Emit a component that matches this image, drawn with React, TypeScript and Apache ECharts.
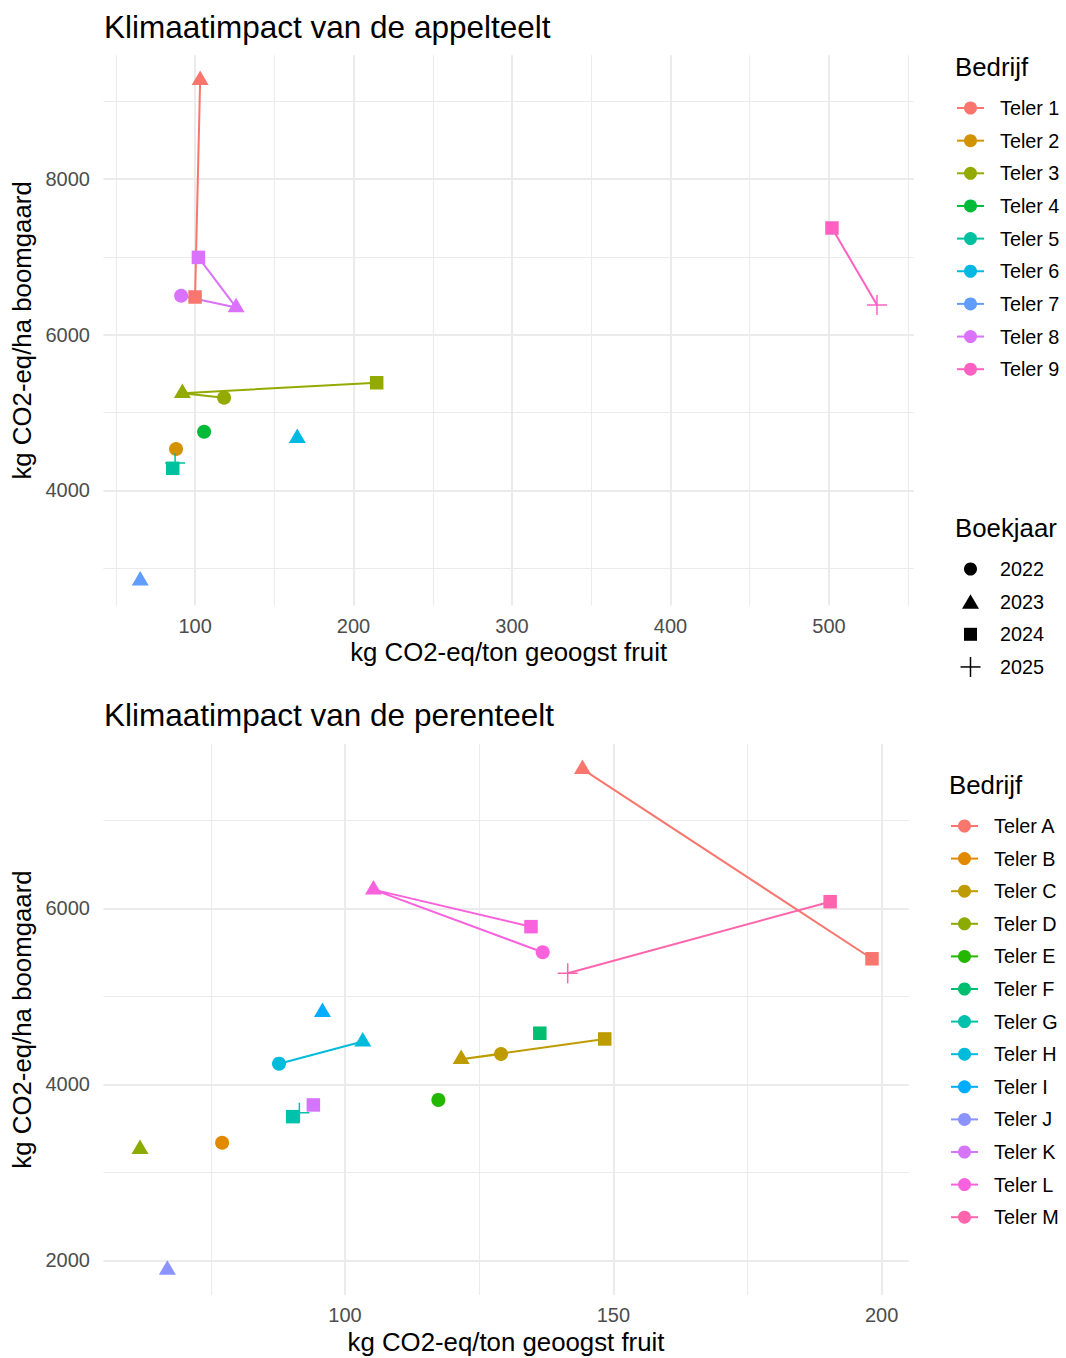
import React, { useEffect, useRef } from 'react';
import * as echarts from 'echarts';

// ---------- Appelteelt (top chart) ----------
const appelTelers = ['Teler 1', 'Teler 2', 'Teler 3', 'Teler 4', 'Teler 5', 'Teler 6', 'Teler 7', 'Teler 8', 'Teler 9'];
const appelColors = ['#F8766D', '#D39200', '#93AA00', '#00BA38', '#00C19F', '#00B9E3', '#619CFF', '#DB72FB', '#FF61C3'];
// one entry per point, ordered by teler, then boekjaar
const appelPuntTeler = [1, 1, 2, 3, 3, 3, 4, 5, 5, 6, 7, 8, 8, 8, 9, 9];
const appelPuntJaar = [2023, 2024, 2022, 2022, 2023, 2024, 2022, 2024, 2025, 2023, 2023, 2022, 2023, 2024, 2024, 2025];
const appelPuntX = [103.2, 100.0, 88.0, 118.3, 92.0, 214.6, 105.7, 85.9, 87.4, 164.5, 65.4, 91.2, 125.9, 102.1, 501.9, 530.3];
const appelPuntY = [9269, 6485, 4533, 5191, 5249, 5384, 4755, 4285, 4353, 4671, 2843, 6501, 6351, 6994, 7371, 6382];
const appelXMajor = [100, 200, 300, 400, 500];
const appelXMinor = [50, 150, 250, 350, 450, 550];
const appelYMajor = [4000, 6000, 8000];
const appelYMinor = [3000, 5000, 7000, 9000];

// ---------- Perenteelt (bottom chart) ----------
const pereTelers = ['Teler A', 'Teler B', 'Teler C', 'Teler D', 'Teler E', 'Teler F', 'Teler G', 'Teler H', 'Teler I', 'Teler J', 'Teler K', 'Teler L', 'Teler M'];
const pereColors = ['#F8766D', '#E18A00', '#BE9C00', '#8CAB00', '#24B700', '#00BE70', '#00C1AB', '#00BBDA', '#00ACFC', '#8B93FF', '#D575FE', '#F962DD', '#FF65AC'];
const perePuntTeler = [1, 1, 2, 3, 3, 3, 4, 5, 6, 7, 7, 8, 8, 9, 10, 11, 12, 12, 12, 13, 13];
const perePuntJaar = [2023, 2024, 2022, 2022, 2023, 2024, 2023, 2022, 2024, 2024, 2025, 2022, 2023, 2023, 2023, 2024, 2022, 2023, 2024, 2024, 2025];
const perePuntX = [144.25, 198.2, 77.1, 129.07, 121.65, 148.4, 61.8, 117.4, 136.3, 90.25, 91.5, 87.7, 103.3, 95.8, 66.9, 94.1, 136.84, 105.3, 134.66, 190.4, 141.5];
const perePuntY = [7581, 5426, 3336, 4344, 4285, 4515, 3264, 3822, 4580, 3632, 3677, 4234, 4485, 4819, 1891, 3765, 5500, 6212, 5791, 6075, 5261];
const pereXMajor = [100, 150, 200];
const pereXMinor = [75, 125, 175];
const pereYMajor = [2000, 4000, 6000];
const pereYMinor = [3000, 5000, 7000];

// ---------- Boekjaar ----------
const jaren = [2022, 2023, 2024, 2025];

// ---------- styles ----------
const FONT = '"Liberation Sans", Arial, Helvetica, sans-serif';
const PLUS = 'path://M9.25,0L10.75,0L10.75,20L9.25,20Z M0,9.25L20,9.25L20,10.75L0,10.75Z';
const jaarSymbols = ['circle', 'triangle', 'rect', PLUS];
const jaarSizes: any[] = [14, [17, 14.5], 13.5, 20];
const jaarOffsets: any[] = [[0, 0], [0, -2.4], [0, 0], [0, 0]];
const GRID_COLOR = '#EBEBEB';
const TITLE_SIZE = 31.5;
const AXIS_TITLE_SIZE = 25.8;
const TICK_SIZE = 20;
const LEGEND_TITLE_SIZE = 25.8;
const LEGEND_TEXT_SIZE = 19.8;

function expand(vals: number[]) {
  const lo = Math.min(...vals);
  const hi = Math.max(...vals);
  const pad = (hi - lo) * 0.05;
  return [lo - pad, hi + pad];
}

function buildSeries(names: string[], colors: string[], pT: number[], pJ: number[], pX: number[], pY: number[], gi: number) {
  return names.map((name, i) => {
    const data: any[] = [];
    pT.forEach((t, k) => {
      if (t !== i + 1) return;
      const j = jaren.indexOf(pJ[k]);
      data.push({
        value: [pX[k], pY[k]],
        symbol: jaarSymbols[j],
        symbolSize: jaarSizes[j],
        symbolOffset: jaarOffsets[j],
      });
    });
    return {
      type: 'line',
      name,
      xAxisIndex: gi,
      yAxisIndex: gi,
      data,
      z: 10,
      showSymbol: true,
      showAllSymbol: true,
      symbolKeepAspect: false,
      lineStyle: { color: colors[i], width: 2 },
      itemStyle: { color: colors[i], borderWidth: 0 },
      emphasis: { disabled: true },
      silent: true,
      clip: false,
    };
  });
}

function gridSeries(gi: number, xMaj: number[], xMin: number[], yMaj: number[], yMin: number[]) {
  const major = { color: GRID_COLOR, width: 2, type: 'solid' };
  const minor = { color: GRID_COLOR, width: 1.1, type: 'solid' };
  return {
    type: 'line',
    xAxisIndex: gi,
    yAxisIndex: gi,
    data: [],
    z: 1,
    silent: true,
    markLine: {
      z: 1,
      silent: true,
      symbol: ['none', 'none'],
      label: { show: false },
      emphasis: { disabled: true },
      lineStyle: { type: 'solid' },
      data: [
        ...xMin.map((v) => ({ xAxis: v, lineStyle: minor })),
        ...yMin.map((v) => ({ yAxis: v, lineStyle: minor })),
        ...xMaj.map((v) => ({ xAxis: v, lineStyle: major })),
        ...yMaj.map((v) => ({ yAxis: v, lineStyle: major })),
      ],
    },
  };
}

function xAxisCfg(gi: number, ext: number[], labels: number[]) {
  return {
    type: 'value',
    gridIndex: gi,
    min: ext[0],
    max: ext[1],
    name: 'kg CO2-eq/ton geoogst fruit',
    nameLocation: 'middle',
    nameGap: 46.7,
    nameTextStyle: { fontSize: AXIS_TITLE_SIZE, color: '#000', fontFamily: FONT, align: 'center', verticalAlign: 'middle' },
    axisLine: { show: false },
    axisTick: { show: false },
    splitLine: { show: false },
    axisLabel: {
      customValues: labels,
      formatter: (v: number) => String(v),
      fontSize: TICK_SIZE,
      color: '#4D4D4D',
      fontFamily: FONT,
      margin: 20.5,
      verticalAlign: 'middle',
    },
  };
}

function yAxisCfg(gi: number, ext: number[], labels: number[]) {
  return {
    type: 'value',
    gridIndex: gi,
    min: ext[0],
    max: ext[1],
    name: 'kg CO2-eq/ha boomgaard',
    nameLocation: 'middle',
    nameGap: 78.6,
    nameTextStyle: { fontSize: AXIS_TITLE_SIZE, color: '#000', fontFamily: FONT, align: 'center', verticalAlign: 'middle' },
    axisLine: { show: false },
    axisTick: { show: false },
    splitLine: { show: false },
    axisLabel: {
      customValues: labels,
      formatter: (v: number) => String(v),
      fontSize: TICK_SIZE,
      color: '#4D4D4D',
      fontFamily: FONT,
      margin: 13.5,
    },
  };
}

function legendText(text: string, x: number, y: number, size: number) {
  return {
    type: 'text',
    x,
    y,
    silent: true,
    style: { text, fontSize: size, fontFamily: FONT, fill: '#000', align: 'left', verticalAlign: 'middle' },
  };
}

function bedrijfLegend(names: string[], colors: string[], titleX: number, titleY: number, symX: number, textX: number, y0: number, step: number) {
  const els: any[] = [legendText('Bedrijf', titleX, titleY, LEGEND_TITLE_SIZE)];
  names.forEach((n, i) => {
    const y = y0 + i * step;
    els.push({ type: 'line', silent: true, shape: { x1: symX - 13.5, y1: y, x2: symX + 13.5, y2: y }, style: { stroke: colors[i], lineWidth: 2 } });
    els.push({ type: 'circle', silent: true, shape: { cx: symX, cy: y, r: 6.5 }, style: { fill: colors[i] } });
    els.push(legendText(n, textX, y, LEGEND_TEXT_SIZE));
  });
  return els;
}

function jaarLegend(titleX: number, titleY: number, symX: number, textX: number, y0: number, step: number) {
  const els: any[] = [legendText('Boekjaar', titleX, titleY, LEGEND_TITLE_SIZE)];
  jaren.forEach((jr, i) => {
    const y = y0 + i * step;
    const sym = jaarSymbols[i];
    if (sym === 'circle') {
      els.push({ type: 'circle', silent: true, shape: { cx: symX, cy: y, r: 6.5 }, style: { fill: '#000' } });
    } else if (sym === 'triangle') {
      els.push({ type: 'polygon', silent: true, shape: { points: [[symX, y - 7.5], [symX + 8.5, y + 7], [symX - 8.5, y + 7]] }, style: { fill: '#000' } });
    } else if (sym === 'rect') {
      els.push({ type: 'rect', silent: true, shape: { x: symX - 6.5, y: y - 6.5, width: 13, height: 13 }, style: { fill: '#000' } });
    } else {
      els.push({ type: 'line', silent: true, shape: { x1: symX - 10, y1: y, x2: symX + 10, y2: y }, style: { stroke: '#000', lineWidth: 1.5 } });
      els.push({ type: 'line', silent: true, shape: { x1: symX, y1: y - 10, x2: symX, y2: y + 10 }, style: { stroke: '#000', lineWidth: 1.5 } });
    }
    els.push(legendText(String(jr), textX, y, LEGEND_TEXT_SIZE));
  });
  return els;
}

export default function App() {
  const ref = useRef<HTMLDivElement>(null);
  useEffect(() => {
    if (!ref.current) return;
    const chart = echarts.init(ref.current, null, { renderer: 'svg' });
    const appelX = expand(appelPuntX);
    const appelY = expand(appelPuntY);
    const pereX = expand(perePuntX);
    const pereY = expand(perePuntY);
    const option: any = {
      animation: false,
      backgroundColor: '#ffffff',
      textStyle: { fontFamily: FONT },
      title: [
        { text: 'Klimaatimpact van de appelteelt', left: 104, top: 10.5, padding: 0, textStyle: { fontSize: TITLE_SIZE, fontWeight: 'normal', color: '#000', fontFamily: FONT } },
        { text: 'Klimaatimpact van de perenteelt', left: 104, top: 699, padding: 0, textStyle: { fontSize: TITLE_SIZE, fontWeight: 'normal', color: '#000', fontFamily: FONT } },
      ],
      grid: [
        { left: 103.4, top: 55.2, width: 810.4, height: 550.4, containLabel: false },
        { left: 103.4, top: 744.1, width: 805.2, height: 550.8, containLabel: false },
      ],
      xAxis: [xAxisCfg(0, appelX, appelXMajor), xAxisCfg(1, pereX, pereXMajor)],
      yAxis: [yAxisCfg(0, appelY, appelYMajor), yAxisCfg(1, pereY, pereYMajor)],
      series: [
        gridSeries(0, appelXMajor, appelXMinor, appelYMajor, appelYMinor),
        gridSeries(1, pereXMajor, pereXMinor, pereYMajor, pereYMinor),
        ...buildSeries(appelTelers, appelColors, appelPuntTeler, appelPuntJaar, appelPuntX, appelPuntY, 0),
        ...buildSeries(pereTelers, pereColors, perePuntTeler, perePuntJaar, perePuntX, perePuntY, 1),
      ],
      graphic: [
        ...bedrijfLegend(appelTelers, appelColors, 955, 66.5, 970.5, 1000, 108, 32.65),
        ...jaarLegend(955, 527.5, 970.5, 1000, 569, 32.65),
        ...bedrijfLegend(pereTelers, pereColors, 949, 785, 964.5, 994, 826, 32.6),
      ],
    };
    chart.setOption(option);
    return () => chart.dispose();
  }, []);
  return <div ref={ref} style={{ position: 'absolute', left: 0, top: 0, width: 1066, height: 1358 }} />;
}
